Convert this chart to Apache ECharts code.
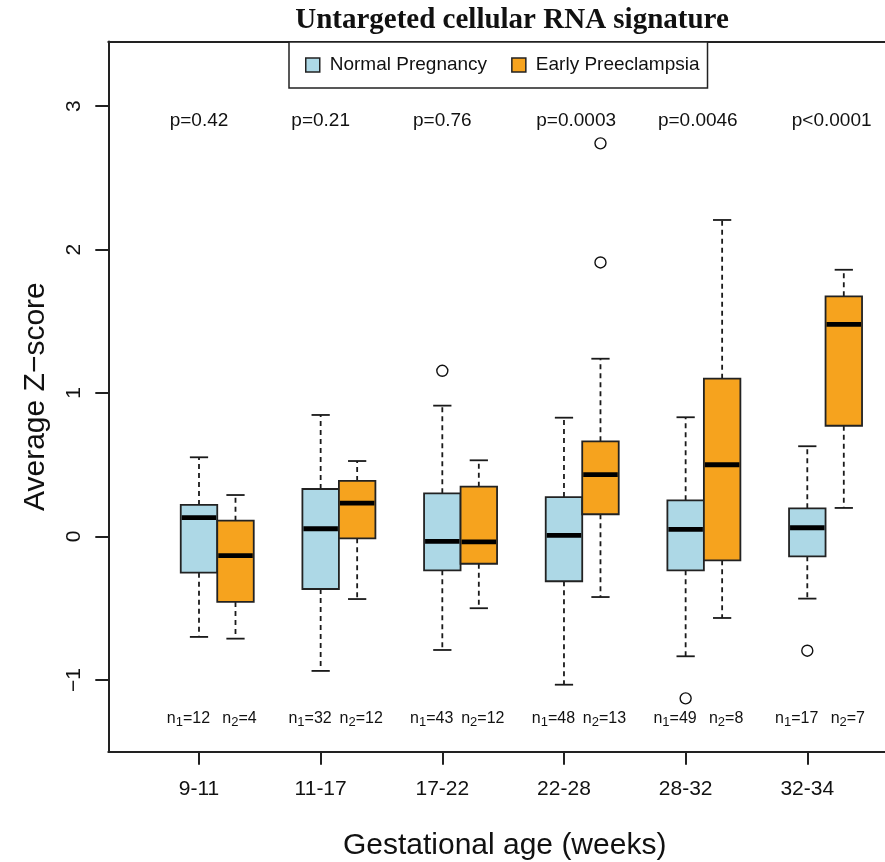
<!DOCTYPE html>
<html>
<head>
<meta charset="utf-8">
<script src="https://cdn.jsdelivr.net/npm/echarts@6/dist/echarts.min.js"></script>
<style>
  html, body { margin: 0; padding: 0; background: #fff; }
  #chart { width: 885px; height: 862px; }
</style>
</head>
<body>
<div id="chart"></div>
<script>
// gestational age groups (x categories)
const groups = ['9-11', '11-17', '17-22', '22-28', '28-32', '32-34'];

// five-number summaries per group: [min, Q1, median, Q3, max]
const normalStats = [
    [-0.70, -0.252, 0.131, 0.220, 0.552],
    [-0.937, -0.366, 0.054, 0.331, 0.847],
    [-0.791, -0.236, -0.034, 0.301, 0.912],
    [-1.033, -0.312, 0.008, 0.275, 0.828],
    [-0.835, -0.236, 0.050, 0.252, 0.831],
    [-0.433, -0.138, 0.061, 0.196, 0.629]
];
const preeclampsiaStats = [
    [-0.712, -0.456, -0.134, 0.110, 0.289],
    [-0.436, -0.013, 0.233, 0.387, 0.526],
    [-0.500, -0.190, -0.038, 0.347, 0.531],
    [-0.422, 0.155, 0.431, 0.663, 1.239],
    [-0.568, -0.166, 0.500, 1.100, 2.206],
    [0.199, 0.772, 1.479, 1.674, 1.859]
];

// outliers: [group index, value]
const normalOutliers = [[2, 1.155], [4, -1.128], [5, -0.796]];
const preeclampsiaOutliers = [[3, 1.91], [3, 2.74]];

// annotations
const pValues = ['p=0.42', 'p=0.21', 'p=0.76', 'p=0.0003', 'p=0.0046', 'p<0.0001'];
const n1 = [12, 32, 43, 48, 49, 17];
const n2 = [4, 12, 12, 13, 8, 7];
const yTicks = [-1, 0, 1, 2, 3];

// layout (axis units: group i sits at i+1, orange box at +0.3)
const BOX_W = 0.3;
const OFFSET_2 = 0.3;
const P_X = [1, 2, 3, 4.1, 5.1, 6.2];
const P_Y = 2.895;
const N_Y = -1.272;
const N1_DX = -0.087;
const N2_DX = 0.333;
const FONT = '"Liberation Sans", Arial, sans-serif';
const BLUE = '#ADD8E6';
const ORANGE = '#F6A31E';
const INK = '#111';

function boxData(stats, dx) {
    return stats.map((s, i) => [i + 1 + dx].concat(s));
}

// R-style box: dashed whiskers, solid caps, thick median
function renderBox(params, api) {
    const x = api.value(0);
    const lo = api.coord([x, api.value(1)]);
    const q1 = api.coord([x, api.value(2)]);
    const med = api.coord([x, api.value(3)]);
    const q3 = api.coord([x, api.value(4)]);
    const hi = api.coord([x, api.value(5)]);
    const w = api.size([BOX_W, 0])[0];
    const cx = lo[0];
    const cap = w / 4;
    const dash = { stroke: '#1a1a1a', lineWidth: 1.8, lineDash: [5, 4] };
    const solid = { stroke: '#1a1a1a', lineWidth: 1.8 };
    return {
        type: 'group',
        children: [
            { type: 'line', shape: { x1: cx, y1: q3[1], x2: cx, y2: hi[1] }, style: dash },
            { type: 'line', shape: { x1: cx, y1: q1[1], x2: cx, y2: lo[1] }, style: dash },
            { type: 'line', shape: { x1: cx - cap, y1: hi[1], x2: cx + cap, y2: hi[1] }, style: solid },
            { type: 'line', shape: { x1: cx - cap, y1: lo[1], x2: cx + cap, y2: lo[1] }, style: solid },
            {
                type: 'rect',
                shape: { x: cx - w / 2, y: q3[1], width: w, height: q1[1] - q3[1] },
                style: { fill: api.visual('color'), stroke: '#222', lineWidth: 1.8 }
            },
            {
                type: 'line',
                shape: { x1: cx - w / 2 + 1, y1: med[1], x2: cx + w / 2 - 1, y2: med[1] },
                style: { stroke: '#000', lineWidth: 4.8 }
            }
        ]
    };
}

const chart = echarts.init(document.getElementById('chart'), null, { renderer: 'canvas' });

const xMin = 0.2545;
const xMax = 0.2545 + (885 - 108.3) / 121.66;

const nLabels = [];
groups.forEach((g, i) => {
    nLabels.push({ value: [i + 1 + N1_DX, N_Y], txt: '{t|n}{s|1}{t|=' + n1[i] + '}' });
    nLabels.push({ value: [i + 1 + N2_DX, N_Y], txt: '{t|n}{s|2}{t|=' + n2[i] + '}' });
});

const option = {
    animation: false,
    backgroundColor: '#fff',
    title: {
        text: 'Untargeted cellular RNA signature',
        left: 507,
        top: 1,
        textAlign: 'center',
        textStyle: { fontFamily: '"Liberation Serif", "DejaVu Serif", serif', fontWeight: 'bold', fontSize: 29, color: INK }
    },
    legend: {
        data: ['Normal Pregnancy', 'Early Preeclampsia'],
        left: 289,
        top: 42,
        orient: 'horizontal',
        padding: [11, 8, 11, 16],
        itemGap: 24,
        itemWidth: 14,
        itemHeight: 14,
        icon: 'rect',
        backgroundColor: '#fff',
        borderColor: '#222',
        borderWidth: 1.5,
        borderRadius: 0,
        itemStyle: { borderColor: '#222', borderWidth: 1.5 },
        textStyle: { fontFamily: FONT, fontSize: 19, color: INK, padding: [0, 0, 0, 5], lineHeight: 24 }
    },
    grid: { left: 108.3, right: 0, top: 41.5, bottom: 110.3, outerBoundsMode: 'none', containLabel: false },
    xAxis: [{
        type: 'value',
        min: xMin,
        max: xMax,
        name: 'Gestational age (weeks)',
        nameLocation: 'middle',
        nameGap: 79,
        nameTextStyle: { fontFamily: FONT, fontSize: 30, color: INK, padding: [0, 0, 0, 16] },
        axisLine: { show: true, onZero: false, lineStyle: { color: '#222', width: 2 } },
        axisTick: { show: true, length: 13, customValues: [1, 2, 3, 4, 5, 6], lineStyle: { color: '#222', width: 2 } },
        axisLabel: {
            show: true,
            customValues: [1, 2, 3, 4, 5, 6],
            margin: 27,
            fontFamily: FONT,
            fontSize: 21,
            color: INK,
            formatter: v => groups[Math.round(v) - 1] || ''
        },
        splitLine: { show: false }
    }, {
        type: 'value',
        position: 'top',
        min: xMin,
        max: xMax,
        axisLine: { show: true, onZero: false, lineStyle: { color: '#222', width: 2 } },
        axisTick: { show: false },
        axisLabel: { show: false },
        splitLine: { show: false }
    }],
    yAxis: {
        type: 'value',
        min: -1.5,
        max: 3.45,
        name: 'Average Z\u2212score',
        nameLocation: 'middle',
        nameGap: 58,
        nameTextStyle: { fontFamily: FONT, fontSize: 30, color: INK },
        axisLine: { show: true, onZero: false, lineStyle: { color: '#222', width: 2 } },
        axisTick: { show: true, length: 13, customValues: yTicks, lineStyle: { color: '#222', width: 2 } },
        axisLabel: {
            show: true,
            customValues: yTicks,
            rotate: 90,
            margin: 24,
            fontFamily: FONT,
            fontSize: 21,
            color: INK,
            formatter: v => String(v).replace('-', '\u2212')
        },
        splitLine: { show: false }
    },
    series: [
        {
            name: 'Normal Pregnancy',
            type: 'custom',
            renderItem: renderBox,
            itemStyle: { color: BLUE },
            encode: { x: 0, y: [1, 2, 3, 4, 5] },
            data: boxData(normalStats, 0),
            z: 2
        },
        {
            name: 'Early Preeclampsia',
            type: 'custom',
            renderItem: renderBox,
            itemStyle: { color: ORANGE },
            encode: { x: 0, y: [1, 2, 3, 4, 5] },
            data: boxData(preeclampsiaStats, OFFSET_2),
            z: 3
        },
        {
            name: 'outliers',
            type: 'scatter',
            symbol: 'circle',
            symbolSize: 11,
            itemStyle: { color: '#fff', borderColor: INK, borderWidth: 1.4, opacity: 1 },
            data: normalOutliers.map(o => [o[0] + 1, o[1]])
                .concat(preeclampsiaOutliers.map(o => [o[0] + 1 + OFFSET_2, o[1]])),
            z: 4
        },
        {
            name: 'pvals',
            type: 'scatter',
            symbolSize: 0,
            itemStyle: { color: INK, opacity: 1 },
            label: {
                show: true,
                position: 'inside',
                fontFamily: FONT,
                fontSize: 19,
                color: INK,
                formatter: p => pValues[p.dataIndex]
            },
            data: P_X.map(x => [x, P_Y]),
            z: 5
        },
        {
            name: 'counts',
            type: 'scatter',
            symbolSize: 0,
            itemStyle: { color: INK, opacity: 1 },
            label: {
                show: true,
                position: 'inside',
                color: INK,
                formatter: p => nLabels[p.dataIndex].txt,
                rich: {
                    t: { fontFamily: FONT, fontSize: 16, lineHeight: 20, color: INK },
                    s: { fontFamily: FONT, fontSize: 13, lineHeight: 13, verticalAlign: 'bottom', color: INK }
                }
            },
            data: nLabels.map(d => d.value),
            z: 5
        }
    ]
};

chart.setOption(option);
</script>
</body>
</html>
